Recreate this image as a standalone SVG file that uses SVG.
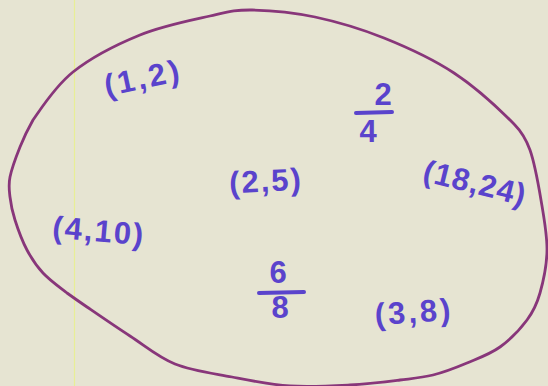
<svg xmlns="http://www.w3.org/2000/svg" width="548" height="386" viewBox="0 0 548 386">
<style>
.lbl{font-family:"Liberation Sans",Arial,sans-serif;font-size:31px;font-weight:bold;fill:#5a43cc;text-anchor:middle;dominant-baseline:central}
.bar{stroke:#5a43cc;stroke-width:4;stroke-linecap:round}
.set{fill:none;stroke:#88367a;stroke-width:2.8;stroke-linejoin:round}
</style>
<rect width="548" height="386" fill="#e6e4d2"/>
<line x1="74.5" y1="0" x2="74.5" y2="386" stroke="#e8ee96" stroke-width="1.2"/>
<g id="set-boundary">
<path class="set" d="M252,10 C269.5,10.2 293,12.3 315,17 C337,21.7 360.8,28.7 384,38 C407.2,47.3 432.3,58.7 454,73 C475.7,87.3 501.3,111.2 514,124 C520.3,130.4 526.8,141.1 530,150 C534.5,162.7 538.2,183.3 541,200 C543.8,216.7 547.2,234.5 547,250 C546.8,265.5 543.3,281.3 540,293 C536.7,304.7 533.7,311 527,320 C520.3,329 510,339.8 500,347 C490,354.2 478.2,358.3 467,363 C455.8,367.7 444.2,372.2 433,375 C421.8,377.8 413.8,378.3 400,380 C386.2,381.7 368.3,384 350,385 C331.7,386 309.7,387.3 290,386 C270.3,384.7 251.2,380.7 232,377 C212.8,373.3 192,370.8 175,364 C158,357.2 144.7,345.5 130,336 C115.3,326.5 97.5,314.2 87,307 C78.5,301.2 73.5,297.7 67,293 C59.7,287.3 49.7,280.2 43,273 C36.3,265.8 31.7,258.8 27,250 C22.3,241.2 17.8,228.8 15,220 C12.2,211.2 10.8,204.2 10,197 C9.2,189.8 8.3,185.3 10,177 C11.7,168.7 16.2,156.5 20,147 C23.8,137.5 26.5,131.5 33,120 C41.8,107.5 55.2,86.2 73,72 C90.8,57.8 117.2,44.3 140,35 C162.8,25.7 191.3,20.2 210,16 C228.7,11.8 234.5,9.8 252,10 Z"/>
</g>
<g id="connectors"></g>
<g id="node-1-2"><text class="lbl" x="143" y="78" transform="rotate(-12 143 78)" letter-spacing="3" font-size="34">(1,2)</text></g>
<g id="node-2-4">
<text class="lbl" x="383" y="94">2</text>
<line class="bar" x1="356" y1="113" x2="392" y2="112"/>
<text class="lbl" x="368" y="131">4</text>
</g>
<g id="node-18-24"><text class="lbl" x="475" y="183" transform="rotate(14 475 183)" letter-spacing="1" font-size="32">(18,24)</text></g>
<g id="node-2-5"><text class="lbl" x="266" y="181" transform="rotate(-3 266 181)" letter-spacing="2">(2,5)</text></g>
<g id="node-4-10"><text class="lbl" x="99" y="231" transform="rotate(5 99 231)" letter-spacing="2" font-size="33">(4,10)</text></g>
<g id="node-6-8">
<text class="lbl" x="278" y="272">6</text>
<line class="bar" x1="259" y1="293" x2="304" y2="292"/>
<text class="lbl" x="280" y="307">8</text>
</g>
<g id="node-3-8"><text class="lbl" x="414" y="312" transform="rotate(-4 414 312)" letter-spacing="3">(3,8)</text></g>
</svg>
